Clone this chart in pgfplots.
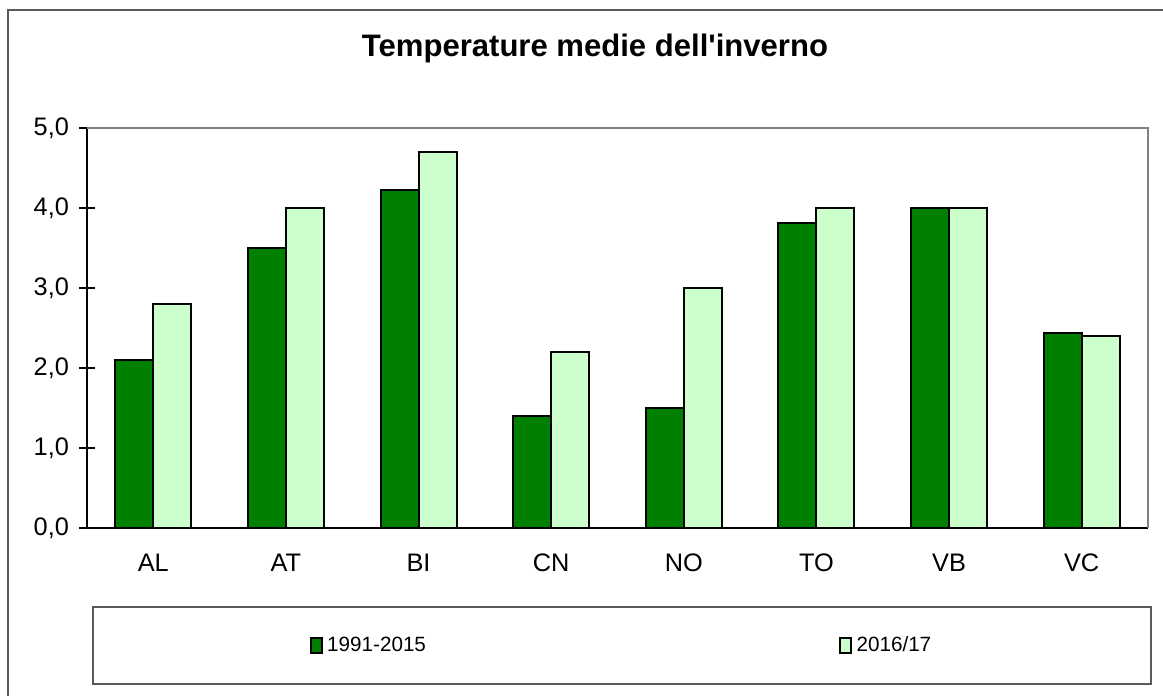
\documentclass[border=0pt]{standalone}
\usepackage{pgfplots}
\pgfplotsset{compat=1.18}
\usepackage{fontspec}
\setmainfont{Liberation Sans}[Ligatures=TeXOff]
\definecolor{dkgreen}{RGB}{0,128,0}
\definecolor{ltgreen}{RGB}{204,255,204}
\definecolor{framegray}{RGB}{90,90,90}
\begin{document}
\begin{tikzpicture}
\useasboundingbox (0,0) rectangle (872.25pt,-522pt);
\draw[framegray, line width=1.4pt] (872.25pt,-7.5pt) -- (6pt,-7.5pt) -- (6pt,-522pt);
\node[anchor=base, font=\fontsize{23.3pt}{27pt}\selectfont\bfseries] at (446.25pt,-42.5pt) {Temperature medie dell'inverno};
\draw[framegray, line width=1.1pt] (69.75pt,-455.25pt) rectangle (863.25pt,-513pt);
\begin{axis}[
  at={(65.25pt,-396pt)}, anchor=south west,
  scale only axis, width=795.75pt, height=300pt,
  ybar=0pt, bar width=28.5pt,
  xmin=-0.5, xmax=7.5, ymin=0, ymax=5,
  axis lines*=left,
  axis line style={black, line width=1.1pt},
  xtick={0,...,7},
  xticklabels={AL,AT,BI,CN,NO,TO,VB,VC},
  x tick style={draw=none},
  minor xtick={-0.5,0.5,...,7.5},
  minor x tick style={black, line width=0.9pt},
  minor tick length=7pt,
  xtick align=outside,
  ytick={0,1,...,5},
  ytick align=center,
  major tick length=12pt,
  y tick style={black, line width=0.9pt},
  tick label style={font=\fontsize{19pt}{22pt}\selectfont},
  xticklabel style={yshift=-4pt},
  yticklabel style={xshift=-4pt},
  /pgf/number format/.cd, fixed, fixed zerofill, precision=1, use comma, assume math mode=true,
  /pgfplots/.cd,
  legend columns=2,
  legend style={at={(0.5042,-0.29375)}, anchor=center, draw=none, fill=none,
    font=\fontsize{15.5pt}{18pt}\selectfont,
    /tikz/every odd column/.append style={column sep=1.5pt},
    /tikz/every even column/.append style={column sep=308pt}},
  legend image code/.code={\draw[#1, line width=1.4pt] (0pt,-5.5pt) rectangle (8pt,5.5pt);},
  after end axis/.code={\draw[gray, line width=1pt] (rel axis cs:0,1) -- (rel axis cs:1,1) -- (rel axis cs:1,0);},
  clip=false,
]
\addplot[draw=black, line width=1.5pt, fill=dkgreen] coordinates {(0,2.1) (1,3.5) (2,4.23) (3,1.4) (4,1.5) (5,3.81) (6,4.0) (7,2.44)};
\addplot[draw=black, line width=1.5pt, fill=ltgreen] coordinates {(0,2.8) (1,4.0) (2,4.7) (3,2.2) (4,3.0) (5,4.0) (6,4.0) (7,2.4)};
\legend{1991-2015,2016/17}
\end{axis}
\end{tikzpicture}
\end{document}
